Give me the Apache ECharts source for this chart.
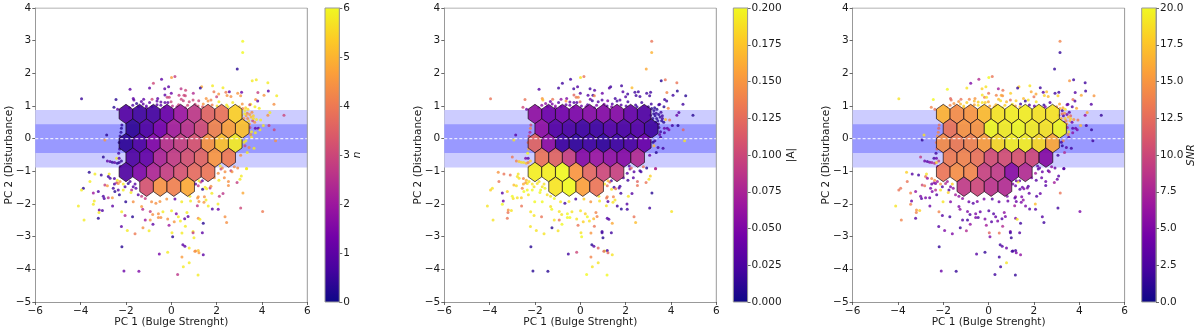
<!DOCTYPE html>
<html><head><meta charset="utf-8">
<style>html,body{margin:0;padding:0;background:#fff}#c{width:1200px;height:333px}</style>
<script src="https://cdn.jsdelivr.net/npm/echarts@6/dist/echarts.min.js"></script>
</head><body><div id="c"></div>
<script>
// Hexagon bins, row by row
const hexRowY = [0.755, 0.31, -0.135, -0.58, -1.02, -1.47];
const hexRowX = [
  [-2.0,-1.4,-0.79,-0.19,0.41,1.02,1.62,2.22,2.82],
  [-1.7,-1.09,-0.49,0.11,0.72,1.32,1.92,2.53,3.13],
  [-2.0,-1.4,-0.79,-0.19,0.41,1.02,1.62,2.22,2.82],
  [-1.7,-1.09,-0.49,0.11,0.72,1.32,1.92,2.53],
  [-2.0,-1.4,-0.79,-0.19,0.41,1.02,1.62],
  [-1.09,-0.49,0.11,0.72]
];
const hexN = [
  [0.9,0.6,0.65,1.2,2.0,2.7,3.6,3.9,5.4],
  [0.4,0.8,1.4,2.2,2.6,3.1,4.2,4.7,5.2],
  [0.4,0.8,1.6,2.6,2.9,3.3,4.5,5.2,5.8],
  [0.8,1.1,2.3,2.8,3.2,3.6,4.5,4.0],
  [0.8,1.5,2.3,2.8,3.2,3.7,3.9],
  [3.2,4.4,4.1,4.8]
];
const hexA = [
  [0.06,0.042,0.045,0.05,0.055,0.055,0.055,0.038,0.028],
  [0.06,0.03,0.025,0.02,0.02,0.03,0.025,0.03,0.02],
  [0.12,0.06,0.02,0.015,0.02,0.015,0.02,0.025,0.04],
  [0.13,0.12,0.095,0.055,0.065,0.06,0.055,0.08],
  [0.195,0.195,0.2,0.15,0.12,0.1,0.095],
  [0.19,0.2,0.155,0.13]
];
const hexSNR = [
  [16.5,14.5,15,17,19,19.5,19.5,19,19],
  [13,15,15,20,19.5,20,19.5,19,20],
  [14.5,13.5,14,15.5,18.5,19.5,19.5,18.5,16],
  [13.5,14,13,10.5,10.5,11,10,5.5],
  [13,14.5,14,9.5,9,5.5,8],
  [9,10,8.5,8]
];
// Individual galaxies: [PC1, PC2, n, |A|, SNR]
const pointsTop = [
[3.15,2.98,6,0.13,14],[3.15,2.64,6,0.165,1.5],[2.91,2.13,0.3,0.16,1.5],[0.16,1.9,2.8,0.13,13],[0.01,1.87,4.6,0.19,20],
[-0.43,1.82,1,0.02,8],[-0.79,1.7,3,0.02,5],[-0.12,1.59,1,0.03,19],[-0.96,1.55,1,0.02,19],[-0.29,1.53,1,0.02,18],
[-1.82,1.51,1,0.03,20],[0.43,1.53,2.6,0.02,7],[0.63,1.48,3,0.03,13],[1.34,1.59,4.8,0.02,18],[1.28,1.55,0.4,0.03,1.5],
[1.82,1.62,5.8,0.02,19],[2.28,1.56,5.8,0.17,2],[1.88,1.44,4,0.03,16],[2.41,1.42,4,0.02,3],[2.56,1.44,1,0.02,17],
[3.1,1.42,1.2,0.02,2],[3.57,1.77,5.8,0.01,15],[3.75,1.8,5.8,0.13,2],[4.26,1.71,5.8,0.13,2],[4.28,1.46,1,0.01,2],
[3.82,1.41,2.8,0.14,3],[2.93,1.39,4.5,0.02,2],[0.97,1.39,2.4,0.04,18],[0,1.39,1.2,0.03,13],[-0.28,1.34,1,0.12,19],
[0.56,1.33,3,0.02,16],[0.34,1.33,2.8,0.03,14],[0.62,1.31,3,0.14,15],[2.09,1.37,4.5,0.02,16],[2.46,1.32,4.5,0.02,18],
[2.63,1.29,4.4,0.02,17],[2,1.28,3,0.03,13],[3.06,1.31,4.5,0.02,18],[4.09,1.33,4.5,0.02,16],[4.65,1.31,5.8,0.01,15],
[-0.18,1.27,3,0.13,14],[-0.09,1.27,3,0.14,19],[-2.44,1.2,0.3,0.13,20],[-1.68,1.23,1,0.15,12],[-1.65,1.18,1,0.17,13],
[-1.22,1.21,1,0.13,13],[-0.85,1.21,3,0.06,14],[-0.6,1.23,1,0.05,15],[0.44,1.21,3,0.04,17],[1.54,1.23,4.5,0.02,17],
[1.75,1.18,4.2,0.03,19],[3.72,1.2,4.5,0.02,13],[3.81,1.15,1,0.02,3],[4.53,1.05,4.4,0.02,3],[-1.32,1.14,1,0.04,15],
[-0.96,1.11,1,0.03,18],[-0.63,1.15,1,0.15,17],[-0.46,1.12,1,0.04,18],[-0.28,1.11,1,0.03,19],[-0.15,1.11,1,0.03,18],
[-0.01,1.13,3,0.12,16],[0.53,1.16,2.8,0.02,19],[0.79,1.13,3,0.03,17],[0.96,1.18,3,0.03,13],[1.21,1.16,3,0.05,18],
[1.62,1.15,4.5,0.02,1.5],[2.1,1.13,5.8,0.02,19],[2.71,1.11,5.8,0.02,3],[3.13,1.06,4.5,0.02,16],[3.5,1.05,5.8,0.03,3],
[3.46,1.04,3,0.02,4],[-1.53,1.08,0.4,0.06,15],[-1.24,1.06,1,0.05,17],[-0.63,1.04,1,0.04,16],[-0.46,1.02,1,0.04,19],
[0.32,1.04,3,0.03,17],[1.41,1.06,4.5,0.03,2],[2.44,1.03,5.8,0.02,1.5],[2.5,0.98,5.8,0.02,5],[3.69,0.98,5.8,0.01,3],
[3.88,0.93,5.8,0.14,16],[-2.53,0.96,0.3,0.1,14],[-2.37,0.9,1,0.04,13],[-1.1,1.0,1,0.06,18],[0.05,1.0,2.6,0.04,16],
[0.72,1.02,3,0.05,18],[1.18,1.0,3.2,0.03,15],[1.8,1.03,4,0.03,3],[2.02,1.0,5.5,0.03,4],[3,0.98,5.2,0.02,15]
];
const pointsRight = [
[4.97,0.72,3,0.01,1.5],[4.35,0.8,5.8,0.03,16],[4.26,0.72,4.4,0.04,6],[3.56,0.81,4.4,0.02,3],[3.35,0.78,4.2,0.02,15],
[3.25,0.86,5.8,0.01,2],[3.37,0.62,4.2,0.01,18],[3.59,0.55,3,0.01,17],[3.76,0.59,5.8,0.17,15],[3.94,0.57,5.8,0.13,13],
[4.06,0.4,5.8,0.02,17],[4.31,0.4,2.8,0.01,2],[4.54,0.27,3,0.12,1.5],[3.71,0.32,1,0.04,3],[3.84,0.32,1,0.03,4],
[3.47,0.34,3,0.02,7],[3.91,0.27,5.8,0.05,5],[3.54,0.21,5.8,0.02,19],[3.71,0.18,5.8,0.03,6],[3.5,0.13,4.4,0.04,14],
[3.54,0.04,5.8,0.02,3],[3.29,-0.06,5.8,0.02,14],[3.21,-0.11,5.8,0.01,2],[4.6,-0.06,4.4,0.19,2],[3.25,-0.22,3,0.17,1.5],
[3.43,-0.27,4.2,0.02,3],[3.65,-0.29,5.8,0.02,2],[3.35,-0.42,5.8,0.01,8],[3.06,-0.51,4.4,0.04,2],[3.32,-0.91,5.8,0.08,3],
[3.09,0.72,4.8,0.02,4],[3.2,0.62,4.5,0.01,16],[3.32,0.5,5.6,0.01,6],[3.45,0.45,4.8,0.03,14],[3.62,0.7,5.4,0.02,12]
];
const pointsEdge = [
[3.28,0.95,5.4,0.01,16],[3.38,0.9,5.6,0.01,19],[3.46,0.74,4.6,0.01,5],[3.52,0.66,5.2,0.015,17],[3.3,0.7,4.8,0.01,3],
[3.42,0.55,5.4,0.01,14],[3.62,0.62,5.6,0.02,18],[3.68,0.5,4.4,0.01,4],[3.24,0.76,5.8,0.01,13],[3.15,0.92,4.2,0.01,16],
[-2.22,0.2,0.3,0.08,14],[-2.18,0.42,0.4,0.1,13],[-2.26,0.08,0.4,0.1,15],[-2.3,-0.12,0.3,0.12,13],[-2.28,-0.32,0.5,0.16,12],
[-1.1,0.95,1,0.05,17],[-0.85,0.98,1,0.04,16],[-1.45,0.98,0.6,0.05,14],[-0.3,0.96,1.2,0.05,18],[0.25,0.98,2.4,0.05,17],
[0.62,0.95,2.6,0.04,19],[1.05,1.05,3,0.05,19],[1.38,0.98,3.4,0.05,18],[-1.85,0.95,0.8,0.05,15],[-1.7,1.02,0.8,0.06,14]
];
const pointsLeft = [
[-3.96,1.22,0.5,0.13,19],[-2.85,0.11,0.3,0.03,19],[-2.93,-0.04,4.5,0.19,1.5],[-3,-0.56,0.3,0.13,9],[-2.82,-0.68,1,0.14,4],
[-2.7,-0.7,1,0.18,3],[-2.6,-0.72,0.4,0.19,5],[-2.5,-0.73,1,0.19,7],[-2.41,-0.6,5.8,0.05,2],[-2.3,-0.6,1,0.03,4],
[-2.38,-0.75,0.3,0.17,8],[-2.3,-0.73,0.5,0.14,18],[-2.2,-0.68,0.4,0.18,10],[-2.25,-0.85,1,0.17,4],[-2.2,0.32,0.3,0.14,12],
[-2.32,-0.45,0.6,0.2,2],[-3.62,-1.03,0.3,0.15,18],[-3.37,-1.08,5.8,0.13,3],[-3.09,-1.11,0.5,0.13,2],[-3.59,-1.31,5.8,0.13,13],
[-3.88,-1.52,0.3,0.19,13],[-3.96,-1.57,5.8,0.18,13],[-4.1,-2.06,5.8,0.19,19],[-3.85,-2.49,5.8,0.19,14],[-3.44,-1.66,2,0.03,14],
[-3.22,-1.62,0.8,0.18,6],[-3,-1.76,0.8,0.2,5],[-2.96,-1.83,0.8,0.19,3],[-2.78,-1.81,2.5,0.19,5],[-2.6,-1.81,4.5,0.18,4],
[-3.4,-1.91,5.8,0.04,4],[-3.44,-2.01,5.8,0.2,14],[-2.59,-2.06,1,0.13,4],[-3.18,-2.18,1.2,0.15,15],[-3.04,-2.2,0.8,0.19,18],
[-3.19,-2.26,5.8,0.13,14],[-3.22,-2.44,0.3,0.13,3],[-2.19,-2.24,5.8,0.19,14],[-2.04,-2.35,2.4,0.19,3],[-1.71,-2.39,0.3,0.13,2],
[-2.2,-2.69,1,0.19,3],[-1.94,-2.81,5.8,0.19,5],[-1.6,-2.91,4,0.19,5],[-2.18,-3.31,0.3,0.01,1.5],[-2.09,-4.05,1.2,0.01,4],
[-1.43,-4.06,1.5,0.01,1.5],[-2.93,-1.42,2.8,0.17,10],[-2.82,-1.44,4.6,0.19,13],[-2.56,-1.52,0.6,0.14,5],[-2.41,-1.35,2.8,0.15,6],
[-2.34,-1.37,4.4,0.19,5],[-2.51,-1.39,0.8,0.16,4],[-2.74,-1.08,5.8,0.19,19],[-2.78,-1.16,0.6,0.19,13],[-2.7,-1.21,0.6,0.19,6],
[-2.51,-1.22,0.8,0.14,14],[-2.38,-1.27,5.8,0.17,15],[-2.26,-1.31,4.5,0.19,7],[-2.12,-1.39,5.8,0.19,15],[-2.04,-1.47,0.8,0.19,3],
[-1.9,-1.37,0.3,0.19,8],[-1.82,-1.31,0.8,0.19,7],[-1.68,-1.47,0.8,0.19,5],[-1.6,-1.39,0.9,0.19,18],[-1.56,-1.52,0.9,0.2,6],
[-1.75,-1.57,2.4,0.2,3],[-2.12,-1.57,5.8,0.2,19],[-2.29,-1.72,0.3,0.19,3],[-2.49,-1.62,0.3,0.2,5],[-2.34,-1.57,0.9,0.2,8],
[-2.01,-1.93,0.3,0.2,19],[-1.78,-1.65,5.8,0.2,18],[-1.46,-1.72,0.9,0.19,7],[-1.31,-1.76,2.8,0.19,6],[-1.15,-1.83,2.8,0.2,6],
[-1.68,-1.93,4.4,0.2,5],[-1.31,-2.08,4.6,0.19,5],[-1.26,-2.16,2.4,0.2,6]
];
const pointsBottom = [
[-1.15,-2.49,2,0.19,3],[-0.81,-2.62,1,0.2,6],[-0.93,-2.49,4.5,0.13,2],[-1.25,-2.73,4.4,0.01,2],[-0.98,-2.82,5.8,0.19,8],
[-0.93,-2.23,2.8,0.19,5],[-0.82,-2.32,4.4,0.19,3],[-0.57,-2.3,4.4,0.2,5],[-0.37,-2.24,5.8,0.19,4],[0.01,-2.21,5.8,0.19,3],
[0.22,-2.3,1.5,0.18,3],[0.31,-2.39,5.8,0.2,4],[0.59,-2.45,1,0.17,3],[0.74,-2.38,1,0.14,5],[0.69,-2.26,5.8,0.14,6],
[-0.57,-2.41,4.4,0.2,5],[-0.46,-2.41,4.4,0.2,3],[-0.16,-2.46,4.4,0.19,5],[0.13,-2.54,4.5,0.18,3],[0.4,-2.52,5.8,0.19,5],
[-0.1,-2.65,2,0.13,7],[0.62,-2.68,5.8,0.13,8],[0.03,-2.88,5.8,0.19,12],[0.06,-3,0.3,0.2,5],[0.47,-2.89,5.8,0.15,13],
[0.96,-2.84,5.8,0.02,4],[0.96,-2.88,2.8,0.02,2],[1,-3.03,5.8,0.01,1.5],[0.51,-3.25,1,0.01,2],[0.6,-3.29,1,0.03,3],
[0.79,-3.35,5.8,0.12,4],[1.07,-3.44,4.4,0.2,3],[1.19,-3.42,5.2,0.02,2],[1.22,-3.49,4.6,0.12,5],[-0.53,-3.53,1.4,0.02,3],
[-0.16,-3.48,5.8,0.1,1.5],[0.47,-3.62,4.6,0.14,2],[0.79,-3.8,5.8,0.19,19],[0.53,-3.92,5.8,0.19,2],[0.28,-4.16,2.6,0.2,2],
[1.18,-4.17,5.8,0.2,1.5],[-0.87,-1.93,4.4,0.19,4],[-0.68,-1.98,4.4,0.02,3],[-0.5,-1.92,4.5,0.19,5],[-0.2,-1.85,4.5,0.02,5],
[0.16,-1.85,1,0.18,3],[0.46,-1.93,5.8,0.15,4],[0.82,-1.76,5.8,0.19,5],[1.19,-1.78,4.5,0.14,6],[1.16,-1.82,4.5,0.13,3],
[1.53,-1.88,5.8,0.19,6],[1.22,-1.92,4.5,0.03,4],[1.44,-1.95,4.5,0.19,5],[0.85,-1.91,5.8,0.19,4],[1.15,-2.05,2.6,0.19,7],
[1.63,-2.06,5.8,0.02,5],[2.06,-2,5.8,0.03,17],[1.81,-2.15,0.8,0.01,3],[2.07,-2.16,1.2,0.02,3],[3.06,-2.12,3,0.02,2],
[4.03,-2.23,4,0.19,5],[1.19,-2.44,4.4,0.03,5],[1.26,-2.47,5.8,0.03,19],[1.41,-2.59,0.3,0.16,2],[2.37,-2.39,4.4,0.13,3],
[2.44,-2.57,4.4,0.17,2],[1.37,-2.88,1,0.02,3],[1.04,-3.45,4.4,0.12,2],[1.41,-3.55,1,0.19,6]
];
const pointsBelowRight = [
[3.32,-0.92,5.8,0.08,3],[2.93,-0.9,4.4,0.01,4],[2.78,-0.86,4.4,0.13,6],[2.63,-0.98,2.8,0.02,3],[2.68,-1.01,4.4,0.02,6],
[2.37,-1.01,4.4,0.03,4],[2.19,-0.93,3,0.06,3],[2.16,-0.84,5.8,0.03,3],[2.07,-1.06,4.4,0.03,7],[3.09,-1.14,5.8,0.18,3],
[3.03,-1.24,5.8,0.19,4],[2.9,-1.34,2.8,0.13,7],[2.52,-1.31,4.4,0.12,4],[2.52,-1.43,4.4,0.13,3],[2.34,-1.2,4.4,0.03,4],
[2.1,-1.27,5.8,0.02,3],[1.71,-1.51,2.6,0.03,5],[1.75,-1.46,4.4,0.02,3],[1.49,-1.49,5.8,0.02,4],[1.56,-1.53,5.8,0.13,5],
[1.38,-1.55,0.3,0.19,3],[1.19,-1.44,2.8,0.13,4],[1.37,-1.29,1,0.02,3],[1.3,-1.33,2.8,0.12,19],[1.22,-1.29,5.8,0.17,4],
[1.07,-1.39,1,0.19,5],[1.79,-1.67,5.8,0.02,4],[2.12,-1.76,2.8,0.19,3],[2.28,-1.68,2.6,0.03,4],[3.16,-1.66,4.8,0.01,13],
[1.46,-1.78,4.4,0.14,5],[1.9,-1.2,4.4,0.03,5],[2.25,-0.9,4.2,0.12,4]
];
const scatterPoints = [...pointsTop, ...pointsRight, ...pointsEdge, ...pointsLeft, ...pointsBottom, ...pointsBelowRight];

const xTicksRange = [-6, 6], yTicksRange = [-5, 4];
const bandOuter = 0.88, bandInner = 0.44;
const hexHalfWidth = 0.3015, hexHalfHeight = 0.297;
const plasma = ['#0d0887','#46039f','#7201a8','#9c179e','#bd3786','#d8576b','#ed7953','#fb9f3a','#fdca26','#f0f921'];

const panels = [
  {label:'n', max:6, step:1, dec:0, col:2, hex:hexN, left:35.3, cb:325, gap:12},
  {label:'|A|', max:0.2, step:0.025, dec:3, col:3, hex:hexA, left:444.3, cb:733.3, gap:38},
  {label:'SNR', max:20, step:2.5, dec:1, col:4, hex:hexSNR, left:852.6, cb:1141.7, gap:30}
];
const txt = '#1a1a1a', spine = '#999', font = 'DejaVu Sans', fs = 10.5;
const minus = v => String(v).replace('-', '\u2212');
const grid=[], xAxis=[], yAxis=[], series=[], visualMap=[];
const common = {
  nameTextStyle:{color:txt,fontFamily:font,fontSize:fs}, nameLocation:'middle', nameMoveOverlap:false,
  axisLine:{onZero:false,show:true,lineStyle:{color:spine,width:1}},
  axisTick:{show:true,length:3,lineStyle:{color:'#444',width:0.8}},
  axisLabel:{color:txt,fontFamily:font,fontSize:fs,margin:4,hideOverlap:false,showMinLabel:true,showMaxLabel:true,formatter:minus},
  splitLine:{show:false}
};
panels.forEach((p,i)=>{
  const g=i*2, cbg=i*2+1;
  grid.push({left:p.left,top:8,width:272,height:294,show:false,outerBoundsMode:'none',containLabel:false});
  grid.push({left:p.cb,top:8,width:14.3,height:294,show:false,outerBoundsMode:'none',containLabel:false});
  xAxis.push({...common,type:'value',gridIndex:g,min:xTicksRange[0],max:xTicksRange[1],interval:2,name:'PC 1 (Bulge Strenght)',nameGap:15,
    axisLine:{...common.axisLine,onZero:false}});
  yAxis.push({...common,type:'value',gridIndex:g,min:yTicksRange[0],max:yTicksRange[1],interval:1,name:'PC 2 (Disturbance)',nameGap:21});
  xAxis.push({type:'value',gridIndex:cbg,min:0,max:1,show:false});
  yAxis.push({...common,type:'value',gridIndex:cbg,position:'right',min:0,max:p.max,interval:p.step,name:p.label,nameGap:p.gap,
    nameTextStyle:{...common.nameTextStyle,fontStyle:p.label==='|A|'?'normal':'italic'},
    axisLabel:{...common.axisLabel,formatter:v=>Number(v).toFixed(p.dec)}});
  const base=series.length;
  series.push({type:'line',xAxisIndex:g,yAxisIndex:g,data:[],silent:true,z:1,
    markArea:{silent:true,z:1,itemStyle:{color:'#ccccff'},data:[[{yAxis:-bandOuter,x:p.left},{yAxis:bandOuter,x:p.left+272}]]}});
  series.push({type:'line',xAxisIndex:g,yAxisIndex:g,data:[],silent:true,z:2,
    markArea:{silent:true,z:2,itemStyle:{color:'#9999ff'},data:[[{yAxis:-bandInner,x:p.left},{yAxis:bandInner,x:p.left+272}]]}});
  series.push({type:'scatter',xAxisIndex:g,yAxisIndex:g,symbol:'circle',symbolSize:3,z:3,silent:true,animation:false,
    data:scatterPoints.map(r=>[r[0],r[1],r[p.col]]),encode:{x:0,y:1}});
  const hd=[];
  hexRowY.forEach((y,r)=>hexRowX[r].forEach((x,c)=>hd.push([x,y,p.hex[r][c]])));
  series.push({type:'custom',xAxisIndex:g,yAxisIndex:g,z:4,silent:true,animation:false,data:hd,encode:{x:0,y:1},
    renderItem:(params,api)=>{
      const x=api.value(0),y=api.value(1),w=hexHalfWidth,h=hexHalfHeight;
      const pts=[[x,y+h],[x+w,y+h/2],[x+w,y-h/2],[x,y-h],[x-w,y-h/2],[x-w,y+h/2]].map(q=>api.coord(q));
      return {type:'polygon',shape:{points:pts},style:{fill:api.visual('color'),stroke:'rgba(20,10,20,0.75)',lineWidth:1,opacity:0.92}};
    }});
  visualMap.push({show:false,type:'continuous',min:0,max:p.max,dimension:2,seriesIndex:[base+2,base+3],inRange:{color:plasma}});
  series.push({type:'line',xAxisIndex:g,yAxisIndex:g,z:5,silent:true,animation:false,symbol:'none',
    data:[[xTicksRange[0],0],[xTicksRange[1],0]],lineStyle:{color:'rgba(255,255,255,0.8)',width:1.2,type:[3,2]}});
  series.push({type:'custom',xAxisIndex:cbg,yAxisIndex:cbg,z:3,silent:true,animation:false,data:[[0,0,1,p.max]],
    renderItem:(params,api)=>{
      const a=api.coord([api.value(0),api.value(3)]), b=api.coord([api.value(2),api.value(1)]);
      return {type:'rect',shape:{x:a[0],y:a[1],width:b[0]-a[0],height:b[1]-a[1]},
        style:{stroke:spine,lineWidth:1,fill:new echarts.graphic.LinearGradient(0,1,0,0,plasma.map((c,k)=>({offset:k/(plasma.length-1),color:c})))}};
    }});
  series.push({type:'line',xAxisIndex:g,yAxisIndex:g,z:6,silent:true,animation:false,symbol:'none',
    data:[[xTicksRange[0],yTicksRange[1]],[xTicksRange[1],yTicksRange[1]],[xTicksRange[1],yTicksRange[0]]],lineStyle:{color:spine,width:1}});
});
const chart=echarts.init(document.getElementById('c'),null,{renderer:'canvas'});
chart.setOption({animation:false,backgroundColor:'#fff',grid,xAxis,yAxis,series,visualMap});
</script></body></html>
